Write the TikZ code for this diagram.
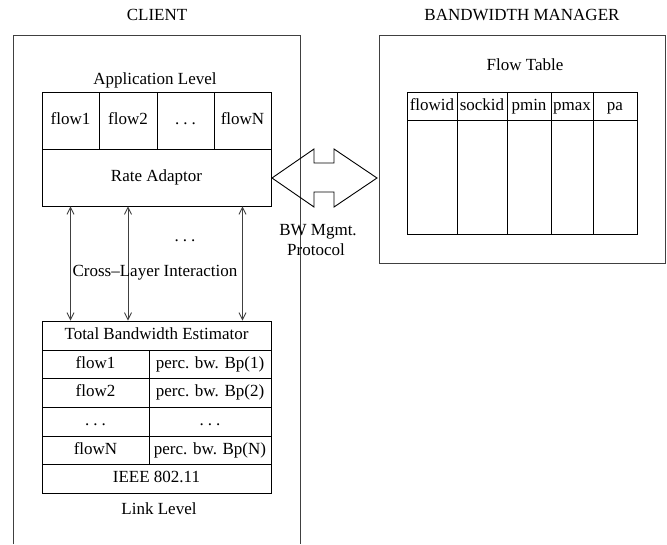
\documentclass[tikz,border=0pt]{standalone}
\usepackage{fontspec}
\setmainfont{Liberation Serif}
\usetikzlibrary{arrows.meta}
\newcommand{\sdots}{.\kern4pt.\kern4pt.}
\begin{document}
\begin{tikzpicture}[x=1pt,y=-1pt,
  every node/.style={font=\fontsize{17}{20}\selectfont},
  cell/.style={draw, line width=0.9pt, inner sep=0pt, text height=11.5pt, text depth=3.5pt},
  lab/.style={inner sep=0pt},
  arr/.style={{Straight Barb[length=7pt,width=7pt]}-{Straight Barb[length=7pt,width=7pt]}, line width=0.9pt, black!75},
  frame/.style={draw, line width=0.9pt, black!75}]
\useasboundingbox (0,0) rectangle (667,544);
% titles
\node[lab] (tclient) at (157,15) {CLIENT};
\node[lab] (tbwm) at (522,15) {BANDWIDTH MANAGER};
% client frame
\coordinate (cbl) at (13,544);
\coordinate (ctl) at (13,35);
\coordinate (ctr) at (300,35);
\coordinate (cbr) at (300,544);
\draw[frame] (cbl) -- (ctl) -- (ctr) -- (cbr);
% application level
\node[lab] (applab) at (155,80) {Application Level};
\node[cell, minimum width=57pt, minimum height=57pt] (f1) at (70.5,120.5) {flow1};
\node[cell, minimum width=58pt, minimum height=57pt] (f2) at (128,120.5) {flow2};
\node[cell, minimum width=57pt, minimum height=57pt] (f3) at (185.5,120.5) {\sdots};
\node[cell, minimum width=57pt, minimum height=57pt] (fN) at (242.5,120.5) {flowN};
\node[cell, minimum width=229pt, minimum height=57pt] (ra) at (156.5,177.5) {Rate Adaptor};
% link level
\node[cell, minimum width=229pt, minimum height=29pt] (tbe) at (156.5,335.5) {Total Bandwidth Estimator};
\node[cell, minimum width=107pt, minimum height=28pt] (l1) at (95.5,364) {flow1};
\node[cell, minimum width=122pt, minimum height=28pt] (r1) at (210,364) {perc. bw. Bp(1)};
\node[cell, minimum width=107pt, minimum height=29pt] (l2) at (95.5,392.5) {flow2};
\node[cell, minimum width=122pt, minimum height=29pt] (r2) at (210,392.5) {perc. bw. Bp(2)};
\node[cell, minimum width=107pt, minimum height=29pt] (l3) at (95.5,421.5) {\sdots};
\node[cell, minimum width=122pt, minimum height=29pt] (r3) at (210,421.5) {\sdots};
\node[cell, minimum width=107pt, minimum height=28pt] (l4) at (95.5,450) {flowN};
\node[cell, minimum width=122pt, minimum height=28pt] (r4) at (210,450) {perc. bw. Bp(N)};
\node[cell, minimum width=229pt, minimum height=29pt] (ieee) at (156.5,478.5) {IEEE 802.11};
\node[lab] (linklab) at (159,509) {Link Level};
% cross-layer arrows
\draw[arr] (f1 |- ra.south) -- (f1 |- tbe.north);
\draw[arr] (f2 |- ra.south) -- (f2 |- tbe.north);
\draw[arr] (fN |- ra.south) -- (fN |- tbe.north);
\node[lab] (cdots) at (185,241) {\sdots};
\node[lab] (cross) at (155,273) {Cross--Layer Interaction};
% bandwidth manager
\node[frame, minimum width=286pt, minimum height=228pt, inner sep=0pt] (bwm) at (522,149) {};
\node[lab] (ftlab) at (525,65) {Flow Table};
\node[cell, minimum width=50pt, minimum height=28pt] (h1) at (432,106) {flowid};
\node[cell, minimum width=50pt, minimum height=28pt] (h2) at (482,106) {sockid};
\node[cell, minimum width=44pt, minimum height=28pt] (h3) at (529,106) {pmin};
\node[cell, minimum width=42pt, minimum height=28pt] (h4) at (572,106) {pmax};
\node[cell, minimum width=44pt, minimum height=28pt] (h5) at (615,106) {pa};
\node[cell, minimum width=50pt, minimum height=114pt] (b1) at (432,177) {};
\node[cell, minimum width=50pt, minimum height=114pt] (b2) at (482,177) {};
\node[cell, minimum width=44pt, minimum height=114pt] (b3) at (529,177) {};
\node[cell, minimum width=42pt, minimum height=114pt] (b4) at (572,177) {};
\node[cell, minimum width=44pt, minimum height=114pt] (b5) at (615,177) {};
% protocol double arrow
\draw[line width=0.9pt] (272,178) -- (314,149) -- (314,163) -- (334,163) -- (334,149)
  -- (377,178) -- (334,207) -- (334,192) -- (314,192) -- (314,207) -- cycle;
\node[lab] (bwlab1) at (318,232) {BW Mgmt.};
\node[lab] (bwlab2) at (316,250) {Protocol};
\end{tikzpicture}
\end{document}
